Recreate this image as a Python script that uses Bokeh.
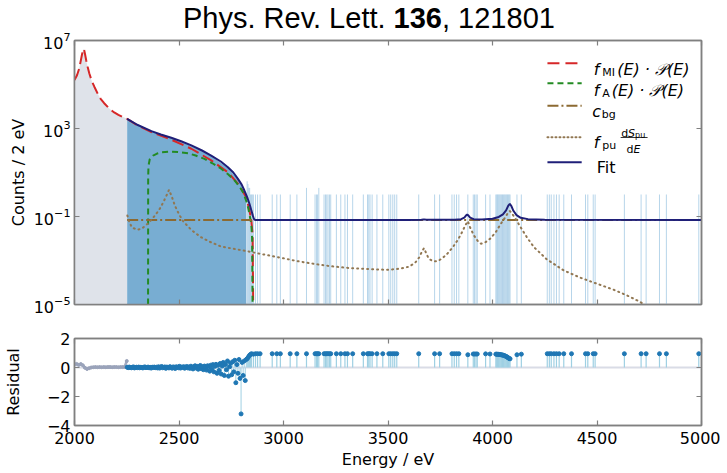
import numpy as np
from bokeh.plotting import figure
from bokeh.models import (FixedTicker, LinearAxis, LogAxis, Label, Span, Range1d,
                          CustomJSTickFormatter, Div)
from bokeh.layouts import column
from bokeh.embed import file_html
from bokeh.resources import INLINE

# ================= values =================
title_journal = "Phys. Rev. Lett."
title_volume = "136"
title_article = "121801"

x_ticks = [2000, 2500, 3000, 3500, 4000, 4500, 5000]
y_ticks_top = [1e-5, 1e-1, 1e3, 1e7]
y_ticks_res = [-4, -2, 0, 2]

# data histogram outside the fit window (grey), log10(counts / 2 eV)
excl_E = [2000, 2012, 2023, 2034, 2040, 2045, 2050, 2056, 2063, 2071, 2083, 2095,
          2111, 2125, 2142, 2160, 2175, 2190, 2210, 2230, 2252]
excl_log = [5.20, 5.42, 5.74, 6.27, 6.55, 6.62, 6.40, 6.10, 5.80, 5.50, 5.15, 4.90,
            4.58, 4.35, 4.15, 3.97, 3.84, 3.73, 3.62, 3.53, 3.44]

# data histogram inside the fit window (blue), log10(counts / 2 eV)
data_E = [2252, 2300, 2368, 2463, 2559, 2654, 2734, 2782, 2813, 2822]
data_log = [3.42, 3.15, 2.86, 2.56, 2.21, 1.75, 1.21, 0.68, 0.15, -0.05]

# isolated bins near the end-point edge (counts / 2 eV)
edge_E = [2826, 2830, 2834, 2838, 2842, 2847, 2851]
edge_counts = [4, 3, 2, 2, 1, 1, 1]

# isolated bins above the end-point (counts / 2 eV) and their residuals
sparse_E = [2856, 2866, 2876, 2888, 2946, 2968, 2985, 3032, 3064, 3110,
            3151, 3158, 3163, 3169, 3194, 3201, 3207, 3213, 3220, 3226,
            3253, 3274, 3294, 3306, 3331, 3382, 3402, 3408, 3414, 3424,
            3447, 3475, 3504, 3513, 3523, 3532, 3542, 3647, 3723, 3747,
            3806, 3817, 3828, 3839, 3882, 3908, 3914, 3921, 3927, 3967,
            3988, 4016, 4020, 4024, 4028, 4032, 4036, 4040, 4044, 4048,
            4052, 4056, 4060, 4064, 4068, 4072, 4076, 4080, 4084, 4117,
            4138, 4262, 4272, 4281, 4294, 4306, 4319, 4341, 4378, 4445,
            4456, 4482, 4491, 4631, 4711, 4735, 4799, 4832, 4987]
sparse_counts = [1, 1, 1, 1, 1, 1, 1, 1, 1, 2,
                 1, 1, 1, 2, 1, 1, 1, 1, 1, 1,
                 1, 1, 1, 1, 1, 1, 1, 1, 1, 1,
                 1, 1, 1, 1, 1, 1, 1, 1, 1, 1,
                 1, 1, 1, 1, 1, 1, 1, 1, 1, 1,
                 1, 1, 1, 1, 1, 1, 1, 1, 1, 1,
                 1, 1, 1, 1, 1, 1, 1, 1, 1, 1,
                 1, 1, 1, 1, 1, 1, 1, 1, 1, 1,
                 1, 1, 1, 1, 1, 1, 1, 1, 1]
sparse_res = [0.92, 0.95, 0.95, 0.95, 0.95, 0.95, 0.95, 0.95, 0.95, 0.95,
              0.95, 0.95, 0.95, 0.95, 0.95, 0.95, 0.95, 0.95, 0.95, 0.95,
              0.95, 0.95, 0.95, 0.95, 0.95, 0.95, 0.95, 0.95, 0.95, 0.95,
              0.95, 0.95, 0.95, 0.95, 0.95, 0.95, 0.95, 0.95, 0.95, 0.95,
              0.95, 0.95, 0.95, 0.95, 0.88, 0.93, 0.93, 0.93, 0.93, 0.94,
              0.93, 0.92, 0.92, 0.91, 0.91, 0.90, 0.89, 0.88, 0.87, 0.86,
              0.84, 0.82, 0.80, 0.77, 0.74, 0.70, 0.66, 0.62, 0.60, 0.88,
              0.92, 0.95, 0.95, 0.95, 0.95, 0.95, 0.95, 0.95, 0.95, 0.95,
              0.95, 0.95, 0.95, 0.95, 0.95, 0.95, 0.95, 0.95, 0.95]

# model components, log10(counts / 2 eV)
fMI_E = [2000, 2012, 2023, 2034, 2040, 2045, 2050, 2056, 2063, 2071, 2083, 2095,
         2111, 2125, 2142, 2160, 2175, 2190, 2210, 2230, 2252, 2300, 2368, 2463,
         2559, 2654, 2734, 2782, 2822, 2837, 2846, 2852, 2855]
fMI_log = [5.20, 5.42, 5.74, 6.27, 6.55, 6.62, 6.40, 6.10, 5.80, 5.50, 5.15, 4.90,
           4.58, 4.35, 4.15, 3.97, 3.84, 3.73, 3.62, 3.53, 3.44, 3.15, 2.84, 2.49,
           2.08, 1.55, 1.01, 0.49, -0.12, -0.73, -1.18, -1.80, -5.00]

fA_E = [2352, 2352.5, 2354, 2360, 2376, 2395, 2416, 2463, 2500, 2543, 2580, 2622,
        2660, 2702, 2735, 2766, 2790, 2806, 2827, 2837, 2846, 2850, 2852]
fA_log = [-5.00, 0.80, 1.30, 1.60, 1.77, 1.86, 1.92, 1.95, 1.93, 1.88, 1.77, 1.62,
          1.42, 1.17, 0.92, 0.64, 0.35, 0.11, -0.42, -0.88, -1.35, -2.00, -5.00]

cbg_E = [2252, 5000]
cbg_log = [-1.16, -1.16]

fpu_E = [2253, 2262, 2275, 2300, 2320, 2340, 2365, 2385, 2405, 2425, 2440, 2452,
         2465, 2480, 2500, 2520, 2560, 2605, 2650, 2700, 2750, 2828, 2907, 3000,
         3067, 3150, 3226, 3300, 3385, 3450, 3500, 3560, 3600, 3630, 3650, 3662,
         3672, 3682, 3695, 3715, 3736, 3760, 3785, 3810, 3835, 3855, 3870, 3882,
         3893, 3911, 3930, 3945, 3965, 3990, 4015, 4040, 4060, 4075, 4083, 4092,
         4110, 4134, 4165, 4198, 4260, 4341, 4420, 4501, 4580, 4644, 4700, 4726]
fpu_log = [-0.95, -1.25, -1.50, -1.60, -1.56, -1.42, -1.18, -0.95, -0.70, -0.35, -0.05, 0.21,
           -0.08, -0.50, -0.90, -1.22, -1.62, -1.94, -2.16, -2.36, -2.45, -2.58, -2.73, -2.90,
           -3.03, -3.16, -3.26, -3.33, -3.38, -3.41, -3.42, -3.37, -3.28, -3.10, -2.85, -2.60,
           -2.44, -2.65, -2.92, -3.03, -3.04, -2.90, -2.68, -2.40, -2.05, -1.70, -1.40, -1.21,
           -1.50, -1.86, -2.12, -2.24, -2.18, -2.00, -1.72, -1.33, -1.05, -0.82, -0.75, -0.85,
           -1.10, -1.48, -1.95, -2.39, -2.95, -3.45, -3.78, -4.06, -4.33, -4.59, -4.85, -5.00]

fit_E = [2252, 2300, 2368, 2413, 2463, 2510, 2559, 2610, 2654, 2700, 2734, 2760,
         2782, 2800, 2813, 2826, 2837, 2846, 2853, 2858, 2862, 2868, 3600, 3660,
         3672, 3684, 3820, 3850, 3865, 3873, 3879, 3885, 3893, 3910, 3950, 4000,
         4030, 4050, 4065, 4075, 4083, 4090, 4100, 4115, 4135, 4170, 4250, 5000]
fit_log = [3.44, 3.17, 2.88, 2.73, 2.58, 2.42, 2.23, 2.00, 1.77, 1.50, 1.24, 1.00,
           0.71, 0.45, 0.18, -0.12, -0.42, -0.72, -0.95, -1.10, -1.15, -1.16, -1.16, -1.15,
           -1.13, -1.15, -1.15, -1.12, -1.05, -0.96, -0.91, -0.96, -1.05, -1.12, -1.14, -1.10,
           -1.02, -0.90, -0.72, -0.52, -0.42, -0.52, -0.74, -0.94, -1.06, -1.12, -1.15, -1.16]

# residuals: excluded region (grey, 10 eV steps) and fit window (blue, 5 eV steps)
res_grey_E = np.arange(2000, 2251, 10)
res_grey = [0.22, 0.25, 0.18, 0.24, 0.15, -0.02, -0.10, -0.05, 0.00, 0.02, 0.03, 0.02, 0.03,
            0.02, 0.03, 0.02, 0.03, 0.03, 0.02, 0.03, 0.03, 0.02, 0.03, 0.03, 0.04, 0.45]
res_E = np.arange(2252, 2850, 5)
res_vals = [0.02, -0.01, 0.03, 0.00, -0.02, 0.01, 0.04, -0.03, 0.00, 0.02,
            -0.01, 0.03, -0.02, 0.01, 0.00, -0.03, 0.02, 0.04, -0.01, 0.00,
            0.03, -0.02, 0.01, -0.04, 0.02, 0.00, 0.03, -0.01, 0.02, -0.03,
            0.05, -0.04, 0.02, 0.07, -0.02, 0.00, 0.04, -0.06, 0.03, 0.01,
            -0.03, 0.06, 0.00, -0.05, 0.04, 0.02, -0.07, 0.05, 0.01, -0.02,
            0.08, -0.04, 0.03, 0.00, 0.06, -0.05, 0.02, 0.07, -0.03, 0.04,
            -0.06, 0.09, 0.02, -0.10, 0.05, 0.12, -0.04, 0.08, -0.12, 0.03,
            0.14, -0.08, 0.06, -0.15, 0.10, 0.02, -0.18, 0.12, 0.05, -0.25,
            0.16, -0.10, 0.20, -0.30, 0.08, 0.22, -0.40, 0.15, -0.20, 0.28,
            -0.45, 0.10, 0.35, -0.55, 0.20, -0.15, 0.45, -0.60, 0.05, 0.30,
            -0.50, 0.40, -0.30, 0.50, -1.05, 0.20, -0.40, 0.55, -0.75, -3.20,
            0.35, -0.55, 0.45, -0.90, 0.55, 0.62, 0.72, 0.83, 0.90, 0.95]

# ================= layout helpers (pixel positions of annotations) =================
FRAME_X0, FRAME_W = 73, 628          # frame left / width in page pixels
FRAME_TOP, DEC_PX = 40, 22           # frame top on the page, pixels per decade


def Ex(px):
    return 2000 + (px - FRAME_X0) * 3000.0 / FRAME_W


def Ytop(py):
    return 10 ** (7 - (py - FRAME_TOP) / DEC_PX)


GREY = "#808080"
RED, GREEN, BROWN, DOT, NAVY = "#d62728", "#238b23", "#8c6a32", "#917752", "#1f1f78"


def style_axis(ax, labels=True):
    ax.axis_line_color = GREY
    ax.axis_line_width = 1.5
    ax.major_tick_line_color = GREY
    ax.major_tick_line_width = 1.2
    ax.major_tick_in = 5
    ax.major_tick_out = 0
    ax.minor_tick_line_color = None
    ax.major_label_text_font = "DejaVu Sans"
    ax.major_label_text_font_size = "16px"
    ax.major_label_text_color = "black"
    ax.axis_label_text_font = "DejaVu Sans"
    ax.axis_label_text_font_size = "16px"
    ax.axis_label_text_font_style = "normal"
    ax.axis_label_text_color = "black"
    if not labels:
        ax.formatter = CustomJSTickFormatter(code="return ''")
        ax.major_label_text_font_size = "4px"
        ax.major_label_standoff = 0


# ================= title =================
TITLE_H = 30
title = Div(text=(f'<div style="position:relative; left:183px; top:3px; white-space:nowrap; '
                  f'font-family:\'Liberation Sans\', Arial, sans-serif; font-size:29px; '
                  f'line-height:31px; color:black;">{title_journal} <b>{title_volume}</b>, '
                  f'{title_article}</div>'),
            width=720, height=TITLE_H, margin=(0, 0, 0, 0), styles={"overflow": "visible"})

# ================= top panel =================
top = figure(width=720, height=320 - TITLE_H, x_range=Range1d(2000, 5000),
             y_range=Range1d(1e-5, 1e7), y_axis_type="log", output_backend="svg",
             toolbar_location=None, title=None, border_fill_color=None,
             min_border_left=73, min_border_right=19, min_border_top=FRAME_TOP - TITLE_H,
             min_border_bottom=16)
top.grid.visible = False
top.outline_line_color = GREY
top.outline_line_width = 1.5
top.background_fill_color = "white"

excl_vals = list(np.power(10.0, excl_log))
data_vals = list(np.power(10.0, data_log))
top.patch([excl_E[0]] + excl_E + [excl_E[-1]], [1e-5] + excl_vals + [1e-5],
          fill_color="#dfe3ea", line_color=None)
top.patch([data_E[0]] + data_E + [data_E[-1]], [1e-5] + data_vals + [1e-5],
          fill_color="#78add2", line_color=None)

bins_E = edge_E + sparse_E
bins_c = edge_counts + sparse_counts
top.segment(x0=bins_E, y0=1e-5, x1=bins_E, y1=bins_c, line_color="#a5cbe5",
            line_width=1.0, line_alpha=0.8)

top.line(fMI_E, np.power(10.0, fMI_log), line_color=RED, line_width=2, line_dash="12 5")
top.line(fA_E, np.power(10.0, fA_log), line_color=GREEN, line_width=2, line_dash="6 4")
top.line(cbg_E, np.power(10.0, cbg_log), line_color=BROWN, line_width=2, line_dash="11 3 2 3")
top.line(fpu_E, np.power(10.0, fpu_log), line_color=DOT, line_width=2, line_dash="1 4",
         line_cap="round")
top.line(fit_E, np.power(10.0, fit_log), line_color=NAVY, line_width=2)

top.yaxis.ticker = FixedTicker(ticks=y_ticks_top, minor_ticks=[])
top.xaxis.ticker = FixedTicker(ticks=x_ticks, minor_ticks=[])
style_axis(top.yaxis[0])
top.yaxis[0].axis_label = "Counts / 2 eV"
top.yaxis[0].major_label_standoff = 4
top.yaxis[0].axis_label_standoff = 3
style_axis(top.xaxis[0], labels=False)
ax_t = LinearAxis(ticker=FixedTicker(ticks=x_ticks, minor_ticks=[]))
style_axis(ax_t, labels=False)
top.add_layout(ax_t, "above")
ax_r = LogAxis(ticker=FixedTicker(ticks=y_ticks_top, minor_ticks=[]))
style_axis(ax_r, labels=False)
top.add_layout(ax_r, "right")


def txt(fig, px, py, text, size=16, style="normal", font="DejaVu Sans"):
    fig.add_layout(Label(x=Ex(px), y=Ytop(py), text=text, text_font=font,
                         text_font_size=f"{size}px", text_font_style=style,
                         text_baseline="alphabetic", text_align="left", text_color="black"))


# legend
LX0, LX1 = 546.7, 581.0
rows = [(62.7, RED, "12 6", 2), (82.7, GREEN, "6 4", 2), (105.3, BROWN, "11 3 2 3", 2),
        (136.7, DOT, "1 3", 2), (161.7, NAVY, "solid", 2)]
for py, col, dash, lw in rows:
    top.line([Ex(LX0), Ex(LX1)], [Ytop(py), Ytop(py)], line_color=col, line_width=lw,
             line_dash=dash, line_cap="round" if col == DOT else "butt")

txt(top, 593.0, 69.3, "f", style="italic")
txt(top, 601.5, 72.3, "MI", size=11)
txt(top, 616.5, 69.3, "(E) · 𝒫(E)", style="italic")
txt(top, 593.0, 90.0, "f", style="italic")
txt(top, 601.5, 93.0, "A", size=11)
txt(top, 611.0, 90.0, "(E) · 𝒫(E)", style="italic")
txt(top, 591.5, 111.0, "c", style="italic")
txt(top, 601.0, 114.0, "bg", size=11)
txt(top, 593.0, 141.5, "f", style="italic")
txt(top, 601.5, 144.5, "pu", size=11)
txt(top, 620.5, 133.3, "d", size=11)
txt(top, 627.5, 133.3, "S", size=11, style="italic")
txt(top, 634.5, 135.3, "pu", size=8)
top.line([Ex(620.0), Ex(647.0)], [Ytop(137.0), Ytop(137.0)], line_color="black", line_width=0.8)
txt(top, 626.0, 148.7, "d", size=11)
txt(top, 633.0, 148.7, "E", size=11, style="italic")
txt(top, 596.0, 167.3, "Fit")

# ================= residual panel =================
bot = figure(width=720, height=152, x_range=top.x_range, y_range=Range1d(-4, 2),
             output_backend="svg", toolbar_location=None, title=None,
             min_border_left=73, min_border_right=19, min_border_top=18, min_border_bottom=47)
bot.grid.visible = False
bot.outline_line_color = GREY
bot.outline_line_width = 1.5
bot.add_layout(Span(location=0, dimension="width", line_color="#d9dce6", line_width=2,
                    level="underlay"))

bot.segment(x0=res_E, y0=0, x1=res_E, y1=res_vals, line_color="#9fd0e3", line_width=1)
bot.segment(x0=sparse_E, y0=0, x1=sparse_E, y1=sparse_res, line_color="#9fd0e3", line_width=1.2)
bot.line(res_grey_E, res_grey, line_color="#a3abc2", line_width=2.5)
bot.scatter(res_grey_E, res_grey, size=3, color="#9aa3ba")
bot.scatter(res_E, res_vals, size=4, color="#1f77b4")
bot.scatter(sparse_E, sparse_res, size=4, color="#1f77b4")

bot.xaxis.ticker = FixedTicker(ticks=x_ticks, minor_ticks=[])
bot.yaxis.ticker = FixedTicker(ticks=y_ticks_res, minor_ticks=[])
style_axis(bot.xaxis[0])
bot.xaxis[0].axis_label = "Energy / eV"
bot.xaxis[0].major_label_standoff = 6
bot.xaxis[0].axis_label_standoff = 3
style_axis(bot.yaxis[0])
bot.yaxis[0].axis_label = "Residual"
bot.yaxis[0].major_label_standoff = 4
bot.yaxis[0].axis_label_standoff = 21
bot.yaxis[0].major_label_overrides = {-4: "−4", -2: "−2", 0: "0", 2: "2"}
bx_t = LinearAxis(ticker=FixedTicker(ticks=x_ticks, minor_ticks=[]))
style_axis(bx_t, labels=False)
bot.add_layout(bx_t, "above")
by_r = LinearAxis(ticker=FixedTicker(ticks=y_ticks_res, minor_ticks=[]))
style_axis(by_r, labels=False)
bot.add_layout(by_r, "right")

layout = column(title, top, bot)
open("out.html", "w").write(file_html(layout, INLINE))
